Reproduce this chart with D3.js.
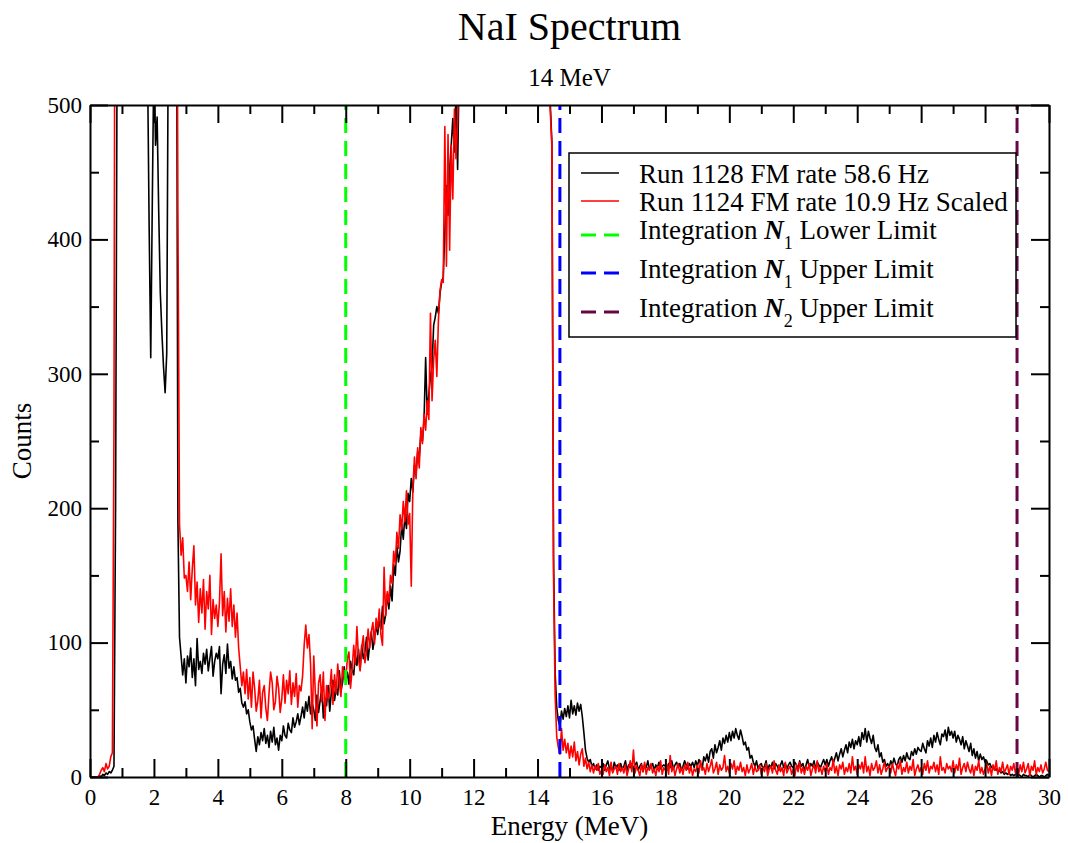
<!DOCTYPE html>
<html>
<head>
<meta charset="utf-8">
<script src="https://cdn.jsdelivr.net/npm/d3@7"></script>
<style>
  body { margin: 0; background: #fff; }
  svg { display: block; }
  text { font-family: "Liberation Serif", "Times New Roman", Times, serif; fill: #000; }
</style>
</head>
<body>
<svg id="chart" width="1068" height="843"></svg>
<script>
// NaI detector spectra, one value per 0.05 MeV channel (0 to 30 MeV).
const channelWidth = 0.05;

// Run 1128, FM rate 58.6 Hz
const run1128 = [
  0,0,0,0,0,0,1,0,2,1,3,2,4,3,5,8,200,560,1500,2600,
  3400,4000,4400,4600,4500,4300,4000,3600,3200,2700,2200,1800,1400,1100,850,680,530,410,312,430,
  540,470,491,420,360,330,305,286,315,560,900,1200,1300,1100,700,190,104,90,76,88,
  70,90,82,96,74,88,68,103,80,86,77,92,84,95,79,88,97,75,86,92,
  88,97,62,84,91,77,99,81,86,73,82,72,74,63,66,55,52,56,47,50,
  41,35,38,28,19,30,24,33,27,36,25,31,22,34,26,37,24,29,20,31,
  27,38,31,29,40,35,33,44,37,41,47,39,45,52,44,56,49,60,47,55,
  50,42,61,48,57,66,44,59,53,68,49,63,72,57,66,61,79,64,70,82,
  71,78,69,86,80,76,91,83,95,80,98,88,93,104,87,99,108,95,103,113,
  106,117,110,127,114,121,136,125,142,131,158,150,172,160,168,188,177,194,185,211,
  205,222,212,232,226,242,238,255,250,266,312,270,285,298,305,336,342,350,345,360,
  368,372,405,440,418,452,470,490,465,510,452,530,560,600,640,690,740,800,860,930,
  1000,1040,1110,1150,1230,1270,1340,1400,1460,1530,1590,1680,1740,1830,1900,1990,2080,2150,2260,2340,
  2430,2540,2610,2720,2800,2910,2990,3080,3170,3230,3320,3380,3450,3490,3540,3570,3600,3610,3630,3620,
  3580,3500,3350,3100,2700,2100,720,520,500,472,165,78,52,42,38,49,43,51,45,53,
  44,57,47,53,46,55,49,54,45,33,20,14,11,13,8,10,6,9,5,8,
  7,10,5,9,12,6,8,4,11,7,9,5,10,6,8,12,5,9,7,10,
  6,9,11,5,8,10,4,9,7,12,6,8,10,5,9,7,11,6,8,9,
  8,5,10,7,12,6,9,11,7,10,5,8,12,9,6,10,8,11,7,12,
  8,13,10,6,15,12,17,11,19,21,14,24,18,22,27,20,29,25,31,26,
  33,27,34,29,36,31,28,35,30,24,26,20,22,14,16,11,8,12,6,9,
  10,6,8,12,5,9,7,11,6,10,8,5,9,12,7,10,6,9,11,8,
  7,11,9,6,12,8,10,5,9,13,7,10,8,12,6,11,9,7,10,13,
  9,13,8,12,15,10,14,18,12,17,21,15,20,24,18,26,22,28,21,27,
  24,30,23,33,28,36,26,34,29,25,31,22,19,24,15,18,11,13,8,10,
  7,12,9,14,10,8,13,15,11,16,12,18,14,13,19,16,21,17,22,20,
  19,25,21,18,27,23,29,22,31,26,33,28,24,32,30,35,27,37,31,34,
  29,34,26,31,28,24,30,21,27,23,19,25,16,21,14,19,12,17,13,15,
  11,12,9,10,7,8,5,6,4,5,3,4,2,3,2,3,1,2,1,2,
  1,2,1,0,2,1,1,0,2,1,0,1,2,1,0,1,1,0,1,2,
  1
];

// Run 1124, FM rate 10.9 Hz, scaled
const run1124 = [
  0,0,0,0,0,0,2,5,7,4,10,6,8,15,18,260,900,2200,3400,4100,
  4800,5400,5800,6000,5900,5700,5400,5000,4600,4200,3800,3400,3000,2700,2400,2100,1900,1700,1500,1400,
  1300,1250,1200,1150,1100,1080,1050,1020,1000,980,950,920,900,870,780,420,188,165,178,148,
  150,138,160,132,155,172,128,145,115,140,122,147,110,138,125,150,106,132,118,128,
  112,130,166,120,138,108,133,116,140,112,128,104,122,96,82,68,78,62,80,58,
  74,52,78,66,49,57,72,44,63,68,51,42,62,78,70,50,56,75,66,48,
  58,76,55,72,62,79,54,70,60,77,52,68,64,75,98,113,96,106,84,36,
  90,62,38,70,76,56,78,42,68,58,64,80,54,76,62,84,70,60,82,74,
  72,88,93,66,80,98,84,112,88,79,96,105,85,93,110,96,108,115,99,118,
  110,125,106,98,156,120,138,130,150,144,168,158,182,170,195,184,205,190,213,188,
  196,142,215,238,222,245,230,260,248,270,258,280,266,345,280,310,325,298,340,362,
  370,368,484,380,478,392,470,430,497,460,488,540,600,660,720,790,860,930,1000,1080,
  1150,1230,1300,1390,1460,1550,1620,1710,1790,1870,1960,2040,2130,2210,2290,2370,2450,2520,2600,2670,
  2740,2800,2870,2930,2990,3040,3100,3140,3190,3230,3260,3300,3320,3350,3370,3380,3390,3400,3390,3380,
  3350,3300,3180,2950,2550,1950,700,515,495,468,150,62,30,22,17,36,20,28,18,25,
  14,23,15,26,12,19,9,17,21,8,14,6,11,4,9,3,8,5,10,2,
  5,2,9,4,7,1,11,3,6,8,2,10,4,7,3,9,1,6,12,4,
  20,3,8,5,1,9,4,11,2,7,5,10,3,6,1,8,4,12,2,7,
  5,9,2,16,4,8,1,6,10,3,7,2,9,5,11,3,8,1,6,4,
  9,3,12,5,7,2,10,4,8,13,3,6,11,2,9,5,7,16,4,8,
  3,10,6,12,2,8,5,11,4,7,1,9,3,6,10,2,8,4,5,9,
  2,7,4,10,1,6,8,3,12,5,2,9,4,7,1,11,3,6,8,2,
  6,1,9,4,11,3,7,2,8,5,10,1,6,9,3,12,4,7,2,8,
  4,10,2,7,5,13,3,8,1,9,6,11,2,7,4,10,3,15,5,8,
  2,9,6,11,3,15,4,8,1,10,5,7,12,3,9,2,6,11,4,7,
  8,3,10,5,1,9,6,12,2,7,4,11,3,8,5,13,1,6,9,4,
  7,2,10,5,12,3,8,6,11,4,9,2,15,5,7,3,10,6,8,4,
  12,3,9,5,14,2,7,10,4,11,6,3,9,1,8,5,12,3,7,2,
  6,10,3,8,1,9,5,12,2,7,4,11,3,6,9,2,8,5,10,3,
  7,2,9,4,11,3,6,10,1,8,5,12,2,7,4,9,3,6,11,5,
  4
];

// Axis ticks
const xMajorTicks = [0, 2, 4, 6, 8, 10, 12, 14, 16, 18, 20, 22, 24, 26, 28, 30];
const xMinorTicks = [1, 3, 5, 7, 9, 11, 13, 15, 17, 19, 21, 23, 25, 27, 29];
const yMajorTicks = [0, 100, 200, 300, 400, 500];
const yMinorTicks = [50, 150, 250, 350, 450];

// Integration window limits (MeV)
const limitEnergies = [8, 14.7, 29];
const limitColors = ["#00ff00", "#0000ff", "#670748"];
const limitNames = [["1", " Lower Limit"], ["1", " Upper Limit"], ["2", " Upper Limit"]];

const seriesNames = ["Run 1128 FM rate 58.6 Hz", "Run 1124 FM rate 10.9 Hz Scaled"];
const seriesColors = ["#000000", "#ff0000"];

const svg = d3.select("#chart");
const plot = { left: 90, right: 1049, top: 105, bottom: 777 };

const x = d3.scaleLinear().domain([0, 30]).range([plot.left, plot.right]);
const y = d3.scaleLinear().domain([0, 500]).range([plot.bottom, plot.top]);

svg.append("rect").attr("width", 1068).attr("height", 843).attr("fill", "#fff");

svg.append("defs").append("clipPath").attr("id", "plot-clip")
  .append("rect")
  .attr("x", plot.left).attr("y", plot.top)
  .attr("width", plot.right - plot.left).attr("height", plot.bottom - plot.top);

// Spectra
const spectrumLine = d3.line()
  .x((d, i) => x(i * channelWidth))
  .y(d => y(d));

const spectra = [run1128, run1124];
svg.append("g").attr("clip-path", "url(#plot-clip)")
  .selectAll("path")
  .data(spectra)
  .join("path")
  .attr("d", spectrumLine)
  .attr("fill", "none")
  .attr("stroke", (d, i) => seriesColors[i])
  .attr("stroke-width", 1.6)
  .attr("stroke-linejoin", "round");

// Integration limits
svg.append("g").selectAll("line")
  .data(limitEnergies)
  .join("line")
  .attr("x1", d => x(d)).attr("x2", d => x(d))
  .attr("y1", y(0)).attr("y2", y(500))
  .attr("stroke", (d, i) => limitColors[i])
  .attr("stroke-width", 3)
  .attr("stroke-dasharray", "15,8");

// Axes: ticks point inward on all four sides
const fontFamily = '"Liberation Serif", "Times New Roman", Times, serif';
function styleAxis(g, showLabels) {
  g.attr("font-family", fontFamily).attr("font-size", 23);
  g.selectAll(".tick line").attr("stroke", "#000").attr("stroke-width", 2);
  g.selectAll(".domain").attr("stroke", "#000").attr("stroke-width", 2);
  g.selectAll(".tick text").attr("fill", "#000");
  if (!showLabels) g.selectAll(".tick text").remove();
}
function dropDomain(g) { g.select(".domain").remove(); }

const axes = svg.append("g");
axes.append("g").attr("transform", `translate(0,${plot.bottom})`)
  .call(d3.axisBottom(x).tickValues(xMajorTicks).tickSize(-18).tickSizeOuter(0).tickPadding(12))
  .call(g => styleAxis(g, true));
axes.append("g").attr("transform", `translate(0,${plot.bottom})`)
  .call(d3.axisBottom(x).tickValues(xMinorTicks).tickSize(-9).tickFormat(""))
  .call(dropDomain).call(g => styleAxis(g, false));
axes.append("g").attr("transform", `translate(0,${plot.top})`)
  .call(d3.axisTop(x).tickValues(xMajorTicks).tickSize(-18).tickSizeOuter(0).tickFormat(""))
  .call(g => styleAxis(g, false));
axes.append("g").attr("transform", `translate(0,${plot.top})`)
  .call(d3.axisTop(x).tickValues(xMinorTicks).tickSize(-9).tickFormat(""))
  .call(dropDomain).call(g => styleAxis(g, false));
axes.append("g").attr("transform", `translate(${plot.left},0)`)
  .call(d3.axisLeft(y).tickValues(yMajorTicks).tickSize(-18).tickSizeOuter(0).tickPadding(8))
  .call(g => styleAxis(g, true));
axes.append("g").attr("transform", `translate(${plot.left},0)`)
  .call(d3.axisLeft(y).tickValues(yMinorTicks).tickSize(-9).tickFormat(""))
  .call(dropDomain).call(g => styleAxis(g, false));
axes.append("g").attr("transform", `translate(${plot.right},0)`)
  .call(d3.axisRight(y).tickValues(yMajorTicks).tickSize(-18).tickSizeOuter(0).tickFormat(""))
  .call(g => styleAxis(g, false));
axes.append("g").attr("transform", `translate(${plot.right},0)`)
  .call(d3.axisRight(y).tickValues(yMinorTicks).tickSize(-9).tickFormat(""))
  .call(dropDomain).call(g => styleAxis(g, false));

// Titles
const cx = (plot.left + plot.right) / 2;
svg.append("text").attr("x", cx).attr("y", 40).attr("text-anchor", "middle")
  .attr("font-size", 40).text("NaI Spectrum");
svg.append("text").attr("x", cx).attr("y", 86).attr("text-anchor", "middle")
  .attr("font-size", 25).text("14 MeV");
svg.append("text").attr("x", cx).attr("y", 835).attr("text-anchor", "middle")
  .attr("font-size", 27).text("Energy (MeV)");
svg.append("text").attr("transform", "translate(31,441) rotate(-90)").attr("text-anchor", "middle")
  .attr("font-size", 27).text("Counts");

// Legend
const legend = svg.append("g");
legend.append("rect")
  .attr("x", 569).attr("y", 153).attr("width", 447).attr("height", 184)
  .attr("fill", "#fff").attr("stroke", "#000").attr("stroke-width", 1.5);

const legendLineY = [173, 201, 235, 273, 312];
const legendBaseY = [183, 211, 239, 278, 317];

seriesNames.forEach((name, i) => {
  legend.append("line")
    .attr("x1", 581).attr("x2", 619)
    .attr("y1", legendLineY[i]).attr("y2", legendLineY[i])
    .attr("stroke", seriesColors[i]).attr("stroke-width", 1.5);
  legend.append("text").attr("x", 639).attr("y", legendBaseY[i])
    .attr("font-size", 27).text(name);
});

limitNames.forEach(([sub, rest], i) => {
  const row = i + 2;
  legend.append("line")
    .attr("x1", 581).attr("x2", 619)
    .attr("y1", legendLineY[row]).attr("y2", legendLineY[row])
    .attr("stroke", limitColors[i]).attr("stroke-width", 3)
    .attr("stroke-dasharray", "15,8");
  const t = legend.append("text").attr("x", 639).attr("y", legendBaseY[row]).attr("font-size", 27);
  t.append("tspan").text("Integration ");
  t.append("tspan").attr("font-style", "italic").attr("font-weight", "bold").text("N");
  t.append("tspan").attr("font-size", 18).attr("dy", 10).text(sub);
  t.append("tspan").attr("dy", -10).text(rest);
});
</script>
</body>
</html>
